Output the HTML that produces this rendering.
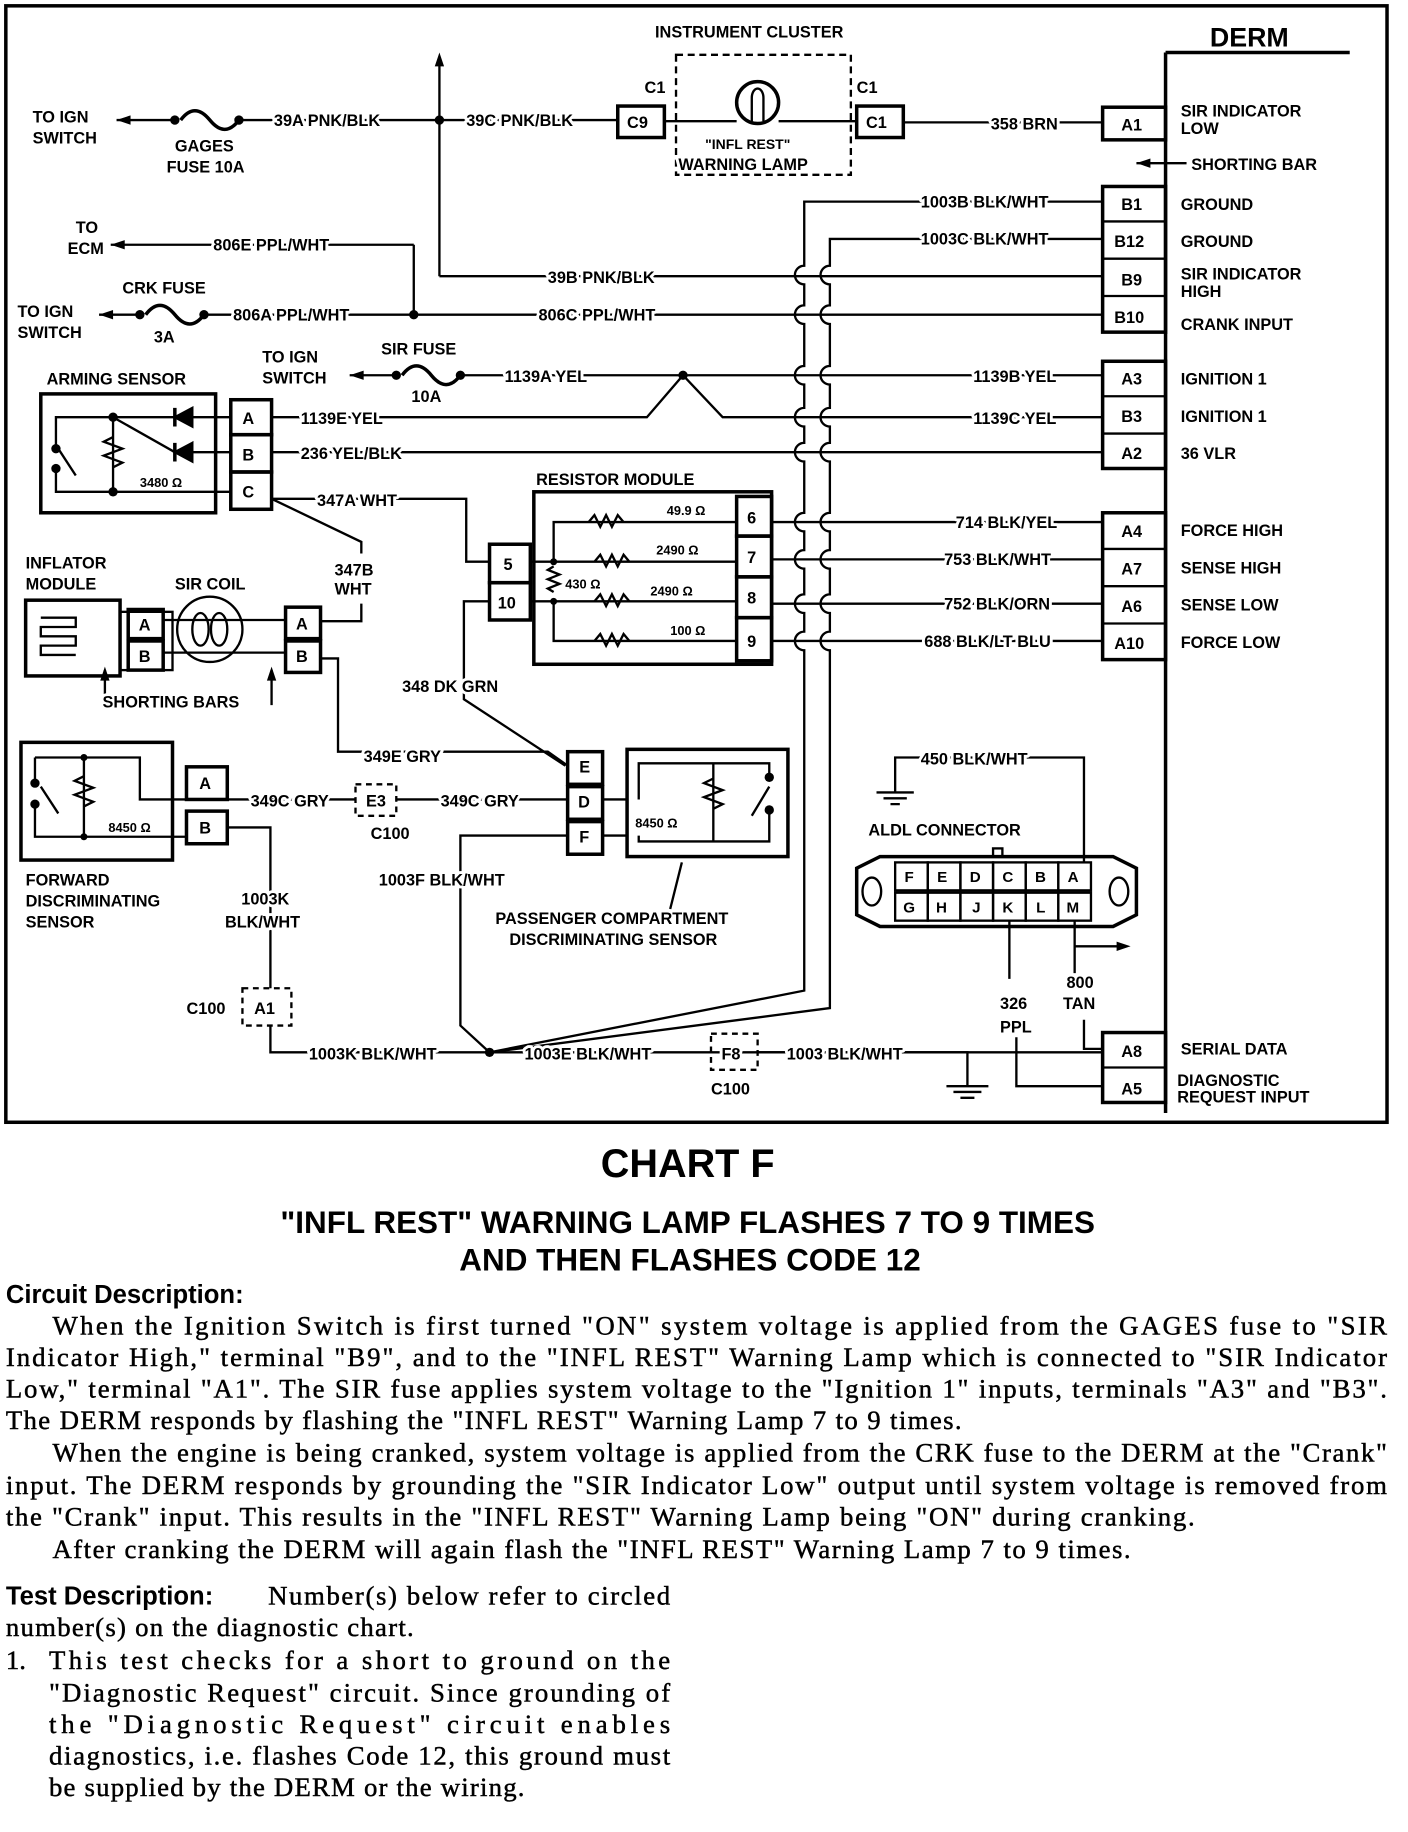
<!DOCTYPE html>
<html><head><meta charset="utf-8"><style>
html,body{margin:0;padding:0;background:#fff;}
svg{display:block;}
.l{font-family:"Liberation Sans",sans-serif;font-weight:bold;font-size:14px;fill:#000;stroke:#fff;stroke-width:5px;paint-order:stroke;stroke-linejoin:round;}
.b{font-family:"Liberation Serif",serif;font-size:23px;fill:#000;stroke:#000;stroke-width:0.4px;}
.h{font-family:"Liberation Sans",sans-serif;font-weight:bold;fill:#000;}
</style></head><body>
<svg width="1408" height="1832" viewBox="0 0 1208 1572" preserveAspectRatio="none" xmlns="http://www.w3.org/2000/svg">
<g fill="none" stroke="#000" stroke-width="2">
<rect x="5" y="5" width="1185" height="958" stroke-width="3"/>
<line x1="1000" y1="45" x2="1000" y2="955" stroke-width="3"/>
<line x1="1000" y1="45" x2="1158" y2="45" stroke-width="3"/>
<rect x="946" y="92" width="54" height="28" stroke-width="3"/>
<rect x="946" y="160" width="54" height="125" stroke-width="3"/>
<line x1="946" y1="190" x2="1000" y2="190"/><line x1="946" y1="222" x2="1000" y2="222"/><line x1="946" y1="254" x2="1000" y2="254"/>
<rect x="946" y="310" width="54" height="92" stroke-width="3"/>
<line x1="946" y1="340" x2="1000" y2="340"/><line x1="946" y1="372" x2="1000" y2="372"/>
<rect x="946" y="440" width="54" height="126" stroke-width="3"/>
<line x1="946" y1="471" x2="1000" y2="471"/><line x1="946" y1="503" x2="1000" y2="503"/><line x1="946" y1="535" x2="1000" y2="535"/>
<rect x="946" y="886" width="54" height="60" stroke-width="3"/>
<line x1="946" y1="916" x2="1000" y2="916"/>
<line x1="975" y1="140" x2="1018" y2="140"/>
<rect x="580" y="47" width="150" height="103" stroke-dasharray="6,4"/>
<rect x="530" y="91" width="40" height="27" stroke-width="3"/>
<rect x="735" y="91" width="40" height="27" stroke-width="3"/>
<circle cx="650" cy="88" r="18" stroke-width="3"/>
<path d="M645 104 V84 a5 8 0 0 1 10 0 V104" />
<line x1="570" y1="104" x2="632" y2="104"/><line x1="668" y1="104" x2="735" y2="104"/>
<line x1="775" y1="105" x2="946" y2="105"/>
<line x1="100" y1="103" x2="150" y2="103"/>
<path d="M155 103 q12 -16 25 0 t25 0" stroke-width="3"/>
<line x1="205" y1="103" x2="530" y2="103"/>
<line x1="377" y1="50" x2="377" y2="237"/>
<line x1="377" y1="237" x2="946" y2="237"/>
<line x1="95" y1="210" x2="355" y2="210"/>
<line x1="355" y1="210" x2="355" y2="270"/>
<line x1="85" y1="270" x2="120" y2="270"/>
<path d="M125 270 q12 -16 25 0 t25 0" stroke-width="3"/>
<line x1="175" y1="270" x2="946" y2="270"/>
<path d="M946 173 H690 V228 a8 8 0 0 0 0 16 V262 a8 8 0 0 0 0 16 V314 a8 8 0 0 0 0 16 V350 a8 8 0 0 0 0 16 V380 a8 8 0 0 0 0 16 V440 a8 8 0 0 0 0 16 V472 a8 8 0 0 0 0 16 V510 a8 8 0 0 0 0 16 V542 a8 8 0 0 0 0 16 V850 L420 903"/>
<path d="M946 205 H712 V228 a8 8 0 0 0 0 16 V262 a8 8 0 0 0 0 16 V314 a8 8 0 0 0 0 16 V350 a8 8 0 0 0 0 16 V380 a8 8 0 0 0 0 16 V440 a8 8 0 0 0 0 16 V472 a8 8 0 0 0 0 16 V510 a8 8 0 0 0 0 16 V542 a8 8 0 0 0 0 16 V865 L420 903"/>
<line x1="300" y1="322" x2="340" y2="322"/>
<path d="M345 322 q12 -16 25 0 t25 0" stroke-width="3"/>
<line x1="395" y1="322" x2="946" y2="322"/>
<path d="M233 358 H555 L586 322 L620 358 H946"/>
<line x1="233" y1="388" x2="946" y2="388"/>
<rect x="35" y="338" width="150" height="102" stroke-width="3"/>
<rect x="198" y="343" width="35" height="30" stroke-width="3"/>
<rect x="198" y="373" width="35" height="32" stroke-width="3"/>
<rect x="198" y="405" width="35" height="32" stroke-width="3"/>
<path d="M198 358 H48 V382 M48 402 V422 H198 M97 358 V422 M97 358 L150 388 H198"/>
<path d="M97 375 l-8 4 l16 6 l-16 6 l16 6 l-8 4"/>
<path d="M150 350 v16 M150 380 v16" stroke-width="3"/>
<path d="M165 350 l-15 8 l15 8 z M165 380 l-15 8 l15 8 z" fill="#000"/>
<line x1="50" y1="385" x2="65" y2="408"/>
<path d="M233 428 H400 V482 H420"/>
<path d="M233 428 L310 465 V475"/>
<path d="M275 533 H310 V518"/>
<rect x="458" y="422" width="204" height="148" stroke-width="3"/>
<rect x="420" y="467" width="35" height="33" stroke-width="3"/>
<rect x="420" y="500" width="35" height="32" stroke-width="3"/>
<rect x="632" y="426" width="30" height="34" stroke-width="3"/>
<rect x="632" y="460" width="30" height="35" stroke-width="3"/>
<rect x="632" y="495" width="30" height="35" stroke-width="3"/>
<rect x="632" y="530" width="30" height="37" stroke-width="3"/>
<path d="M455 482 H632 M455 516 H632 M475 482 V448 H632 M475 516 V550 H632"/>
<path d="M475 486 l-5 3 l10 4 l-10 4 l10 4 l-10 4 l5 3" />
<path d="M505 448 l5 -6 l5 10 l5 -10 l5 10 l5 -10 l5 6 M510 482 l5 -6 l5 10 l5 -10 l5 10 l5 -10 l5 6 M510 516 l5 -6 l5 10 l5 -10 l5 10 l5 -10 l5 6 M510 550 l5 -6 l5 10 l5 -10 l5 10 l5 -10 l5 6"/>
<path d="M662 448 H946 M662 480 H946 M662 518 H946 M662 550 H946"/>
<rect x="22" y="515" width="81" height="65" stroke-width="3"/>
<path d="M35 530 h30 v8 h-30 v8 h30 v8 h-30 v8 h30" />
<rect x="103" y="525" width="45" height="50"/>
<rect x="110" y="523" width="30" height="25" stroke-width="3"/>
<rect x="110" y="550" width="30" height="25" stroke-width="3"/>
<circle cx="180" cy="540" r="28"/>
<ellipse cx="172" cy="540" rx="7" ry="14"/><ellipse cx="188" cy="540" rx="7" ry="14"/>
<path d="M140 532 H245 M140 560 H245"/>
<rect x="245" y="521" width="30" height="27" stroke-width="3"/>
<rect x="245" y="550" width="30" height="27" stroke-width="3"/>
<path d="M90 605 V575 M233 605 V575"/>
<path d="M275 565 H290 V645 H470 L487 657"/>
<path d="M420 516 H398 V600 L485 657"/>
<rect x="18" y="637" width="130" height="101" stroke-width="3"/>
<rect x="160" y="658" width="35" height="28" stroke-width="3"/>
<rect x="160" y="696" width="35" height="28" stroke-width="3"/>
<path d="M30 650 H120 V686 H160 M30 650 V670 M30 690 V718 H160 M72 650 V718"/>
<path d="M72 666 l-8 4 l16 6 l-16 6 l16 6 l-8 4"/>
<line x1="35" y1="675" x2="50" y2="698"/>
<path d="M195 686 H305 M340 686 H487"/>
<rect x="305" y="673" width="35" height="27" stroke-dasharray="5,4"/>
<path d="M195 710 H232 V848 M232 880 V903 H946"/>
<rect x="208" y="848" width="42" height="32" stroke-dasharray="5,4"/>
<rect x="487" y="645" width="30" height="28" stroke-width="3"/>
<rect x="487" y="675" width="30" height="28" stroke-width="3"/>
<rect x="487" y="705" width="30" height="28" stroke-width="3"/>
<rect x="538" y="643" width="138" height="92" stroke-width="3"/>
<path d="M517 686 H538 M517 717 H538 M548 686 V655 H660 V665 M660 695 V722 H548 V717 M612 655 V722"/>
<path d="M612 668 l-8 4 l16 6 l-16 6 l16 6 l-8 4"/>
<line x1="645" y1="700" x2="660" y2="675"/>
<line x1="575" y1="780" x2="585" y2="740"/>
<path d="M487 717 H395 V880 L420 903"/>
<path d="M650 903 H830 V932"/>
<rect x="610" y="887" width="40" height="31" stroke-dasharray="5,4"/>
<path d="M812 932 h36 M818 937 h24 M824 942 h12"/>
<path d="M768 680 V650 H930 V740"/>
<path d="M752 680 h32 M758 685 h20 M764 690 h8"/>
<path d="M755 735 H955 L975 745 V785 L955 795 H755 L735 785 V745 Z" stroke-width="3"/>
<ellipse cx="748" cy="765" rx="8" ry="12"/><ellipse cx="960" cy="765" rx="8" ry="12"/>
<rect x="852" y="728" width="8" height="7"/>
<rect x="768" y="740" width="28" height="24"/><rect x="796" y="740" width="28" height="24"/><rect x="824" y="740" width="28" height="24"/><rect x="852" y="740" width="28" height="24"/><rect x="880" y="740" width="28" height="24"/><rect x="908" y="740" width="28" height="24"/>
<rect x="768" y="766" width="28" height="24"/><rect x="796" y="766" width="28" height="24"/><rect x="824" y="766" width="28" height="24"/><rect x="852" y="766" width="28" height="24"/><rect x="880" y="766" width="28" height="24"/><rect x="908" y="766" width="28" height="24"/>
<path d="M922 790 V835 M922 812 H965"/>
<path d="M930 875 V900 H946"/>
<path d="M866 790 V840 M872 890 V932 H946"/>
</g>
<g fill="#000">
<path d="M100 103 l12 -4 v8 z M95 210 l12 -4 v8 z M85 270 l12 -4 v8 z M300 322 l12 -4 v8 z M377 45 l-4 12 h8 z M975 140 l12 -4 v8 z M970 812 l-12 -4 v8 z M90 572 l-4 12 h8 z M233 572 l-4 12 h8 z"/>
<circle cx="377" cy="103" r="4"/><circle cx="355" cy="270" r="4"/><circle cx="586" cy="322" r="4"/><circle cx="420" cy="903" r="4"/>
<circle cx="150" cy="103" r="4"/><circle cx="205" cy="103" r="4"/><circle cx="120" cy="270" r="4"/><circle cx="175" cy="270" r="4"/><circle cx="340" cy="322" r="4"/><circle cx="395" cy="322" r="4"/>
<circle cx="97" cy="358" r="4"/><circle cx="97" cy="422" r="4"/><circle cx="48" cy="385" r="4"/><circle cx="48" cy="402" r="4"/>
<circle cx="475" cy="482" r="3"/><circle cx="475" cy="516" r="3"/>
<circle cx="30" cy="672" r="4"/><circle cx="30" cy="690" r="4"/><circle cx="72" cy="650" r="3"/><circle cx="72" cy="718" r="3"/>
<circle cx="660" cy="667" r="4"/><circle cx="660" cy="695" r="4"/>
</g>
<g class="l">
<text x="1038" y="40" style="font-size:23px">DERM</text>
<text x="962" y="112">A1</text><text x="962" y="180">B1</text><text x="956" y="212">B12</text><text x="962" y="245">B9</text><text x="956" y="277">B10</text>
<text x="962" y="330">A3</text><text x="962" y="362">B3</text><text x="962" y="394">A2</text>
<text x="962" y="461">A4</text><text x="962" y="493">A7</text><text x="962" y="525">A6</text><text x="956" y="557">A10</text>
<text x="962" y="907">A8</text><text x="962" y="939">A5</text>
<text x="1013" y="100">SIR INDICATOR</text><text x="1013" y="115">LOW</text>
<text x="1022" y="146">SHORTING BAR</text>
<text x="1013" y="180">GROUND</text><text x="1013" y="212">GROUND</text>
<text x="1013" y="240">SIR INDICATOR</text><text x="1013" y="255">HIGH</text>
<text x="1013" y="283">CRANK INPUT</text>
<text x="1013" y="330">IGNITION 1</text><text x="1013" y="362">IGNITION 1</text><text x="1013" y="394">36 VLR</text>
<text x="1013" y="460">FORCE HIGH</text><text x="1013" y="492">SENSE HIGH</text><text x="1013" y="524">SENSE LOW</text><text x="1013" y="556">FORCE LOW</text>
<text x="1013" y="905">SERIAL DATA</text><text x="1010" y="932">DIAGNOSTIC</text><text x="1010" y="946">REQUEST INPUT</text>
<text x="562" y="32">INSTRUMENT CLUSTER</text>
<text x="553" y="80">C1</text><text x="735" y="80">C1</text>
<text x="538" y="110">C9</text><text x="743" y="110">C1</text>
<text x="605" y="128" style="font-size:12px">"INFL REST"</text><text x="582" y="146">WARNING LAMP</text>
<text x="850" y="111">358 BRN</text>
<text x="28" y="105">TO IGN</text><text x="28" y="123">SWITCH</text>
<text x="150" y="130">GAGES</text><text x="143" y="148">FUSE 10A</text>
<text x="235" y="108">39A PNK/BLK</text><text x="400" y="108">39C PNK/BLK</text>
<text x="790" y="178">1003B BLK/WHT</text><text x="790" y="210">1003C BLK/WHT</text>
<text x="470" y="243">39B PNK/BLK</text>
<text x="65" y="200">TO</text><text x="58" y="218">ECM</text>
<text x="183" y="215">806E PPL/WHT</text>
<text x="105" y="252">CRK FUSE</text>
<text x="15" y="272">TO IGN</text><text x="15" y="290">SWITCH</text><text x="132" y="294">3A</text>
<text x="200" y="275">806A PPL/WHT</text><text x="462" y="275">806C PPL/WHT</text>
<text x="225" y="311">TO IGN</text><text x="225" y="329">SWITCH</text>
<text x="327" y="304">SIR FUSE</text><text x="353" y="345">10A</text>
<text x="433" y="328">1139A YEL</text><text x="835" y="328">1139B YEL</text>
<text x="835" y="364">1139C YEL</text>
<text x="40" y="330">ARMING SENSOR</text>
<text x="208" y="364">A</text><text x="208" y="395">B</text><text x="208" y="427">C</text>
<text x="258" y="364">1139E YEL</text><text x="258" y="394">236 YEL/BLK</text>
<text x="120" y="418" style="font-size:11px">3480 Ω</text>
<text x="272" y="434">347A WHT</text>
<text x="460" y="416">RESISTOR MODULE</text>
<text x="432" y="489">5</text><text x="427" y="522">10</text>
<text x="641" y="449">6</text><text x="641" y="483">7</text><text x="641" y="518">8</text><text x="641" y="555">9</text>
<text x="572" y="442" style="font-size:11px">49.9 Ω</text><text x="563" y="476" style="font-size:11px">2490 Ω</text>
<text x="485" y="505" style="font-size:11px">430 Ω</text><text x="558" y="511" style="font-size:11px">2490 Ω</text><text x="575" y="545" style="font-size:11px">100 Ω</text>
<text x="820" y="453">714 BLK/YEL</text><text x="810" y="485">753 BLK/WHT</text><text x="810" y="523">752 BLK/ORN</text><text x="793" y="555">688 BLK/LT BLU</text>
<text x="22" y="488">INFLATOR</text><text x="22" y="506">MODULE</text><text x="150" y="506">SIR COIL</text>
<text x="287" y="494">347B</text><text x="287" y="510">WHT</text>
<text x="119" y="541">A</text><text x="119" y="568">B</text><text x="254" y="540">A</text><text x="254" y="568">B</text>
<text x="88" y="607">SHORTING BARS</text>
<text x="345" y="594">348 DK GRN</text>
<text x="312" y="654">349E GRY</text>
<text x="171" y="677">A</text><text x="171" y="715">B</text>
<text x="215" y="692">349C GRY</text><text x="314" y="692">E3</text><text x="318" y="720">C100</text><text x="378" y="692">349C GRY</text>
<text x="93" y="714" style="font-size:11px">8450 Ω</text>
<text x="497" y="663">E</text><text x="496" y="693">D</text><text x="497" y="723">F</text>
<text x="545" y="710" style="font-size:11px">8450 Ω</text>
<text x="325" y="760">1003F BLK/WHT</text>
<text x="425" y="793">PASSENGER COMPARTMENT</text><text x="437" y="811">DISCRIMINATING SENSOR</text>
<text x="22" y="760">FORWARD</text><text x="22" y="778">DISCRIMINATING</text><text x="22" y="796">SENSOR</text>
<text x="207" y="776">1003K</text><text x="193" y="796">BLK/WHT</text>
<text x="160" y="870">C100</text><text x="218" y="870">A1</text>
<text x="265" y="909">1003K BLK/WHT</text><text x="450" y="909">1003E BLK/WHT</text>
<text x="619" y="909">F8</text><text x="610" y="939">C100</text><text x="675" y="909">1003 BLK/WHT</text>
<text x="790" y="656">450 BLK/WHT</text>
<text x="745" y="717">ALDL CONNECTOR</text>
<g style="font-size:13px"><text x="776" y="757">F</text><text x="804" y="757">E</text><text x="832" y="757">D</text><text x="860" y="757">C</text><text x="888" y="757">B</text><text x="916" y="757">A</text>
<text x="775" y="783">G</text><text x="803" y="783">H</text><text x="834" y="783">J</text><text x="860" y="783">K</text><text x="889" y="783">L</text><text x="915" y="783">M</text></g>
<text x="915" y="848">800</text><text x="912" y="866">TAN</text>
<text x="858" y="866">326</text><text x="858" y="886">PPL</text>
</g>
<text class="h" x="590" y="1010" text-anchor="middle" style="font-size:34px">CHART F</text>
<text class="h" x="590" y="1058" text-anchor="middle" style="font-size:27px">"INFL REST" WARNING LAMP FLASHES 7 TO 9 TIMES</text>
<text class="h" x="592" y="1090" text-anchor="middle" style="font-size:27px">AND THEN FLASHES CODE 12</text>
<text class="h" x="5" y="1118" style="font-size:22px">Circuit Description:</text>
<g class="b">
<text x="45" y="1145" textLength="1145" lengthAdjust="spacing">When the Ignition Switch is first turned "ON" system voltage is applied from the GAGES fuse to "SIR</text>
<text x="5" y="1172" textLength="1185" lengthAdjust="spacing">Indicator High," terminal "B9", and to the "INFL REST" Warning Lamp which is connected to "SIR Indicator</text>
<text x="5" y="1199" textLength="1185" lengthAdjust="spacing">Low," terminal "A1".  The SIR fuse applies system voltage to the "Ignition 1" inputs, terminals "A3" and "B3".</text>
<text x="5" y="1226" textLength="820" lengthAdjust="spacing">The DERM responds by flashing the "INFL REST" Warning Lamp 7 to 9 times.</text>
<text x="45" y="1254" textLength="1145" lengthAdjust="spacing">When the engine is being cranked, system voltage is applied from the CRK fuse to the DERM at the "Crank"</text>
<text x="5" y="1282" textLength="1185" lengthAdjust="spacing">input.  The DERM responds by grounding the "SIR Indicator Low" output until system voltage is removed from</text>
<text x="5" y="1309" textLength="1020" lengthAdjust="spacing">the "Crank" input.  This results in the "INFL REST" Warning Lamp being "ON"  during cranking.</text>
<text x="45" y="1337" textLength="925" lengthAdjust="spacing">After cranking the DERM will again flash the "INFL REST" Warning Lamp 7 to 9 times.</text>
<text x="230" y="1377" textLength="345" lengthAdjust="spacing">Number(s) below refer to circled</text>
<text x="5" y="1404" textLength="350" lengthAdjust="spacing">number(s) on the diagnostic chart.</text>
<text x="5" y="1432">1.</text>
<text x="42" y="1432" textLength="533" lengthAdjust="spacing">This test checks for a short to ground on the</text>
<text x="42" y="1460" textLength="533" lengthAdjust="spacing">"Diagnostic Request" circuit.  Since grounding of</text>
<text x="42" y="1487" textLength="533" lengthAdjust="spacing">the "Diagnostic Request" circuit enables</text>
<text x="42" y="1514" textLength="533" lengthAdjust="spacing">diagnostics, i.e. flashes Code 12, this ground must</text>
<text x="42" y="1541" textLength="408" lengthAdjust="spacing">be supplied by the DERM or the wiring.</text>
</g>
<text class="h" x="5" y="1377" style="font-size:22px">Test Description:</text>
</svg>
</body></html>
